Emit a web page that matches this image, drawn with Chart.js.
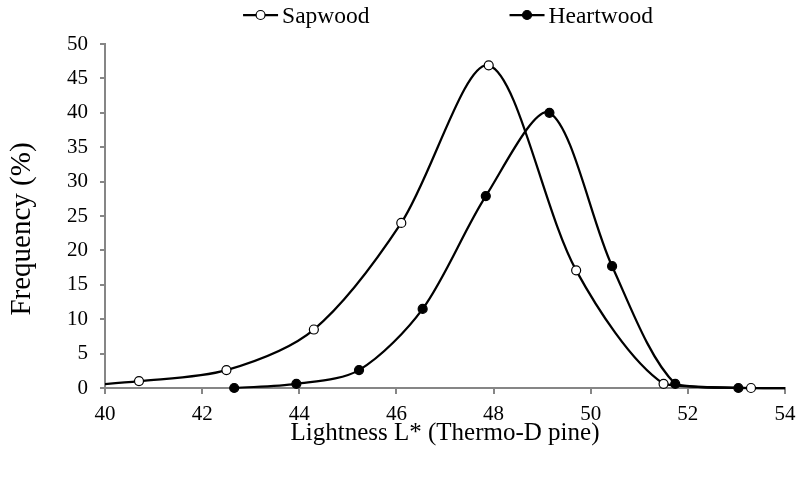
<!DOCTYPE html>
<html>
<head>
<meta charset="utf-8">
<script src="https://cdn.jsdelivr.net/npm/chart.js@4/dist/chart.umd.min.js"></script>
<style>
  html, body { margin: 0; padding: 0; background: #fff; }
  #wrap { width: 796px; height: 478px; }
</style>
</head>
<body>
<div id="wrap"><canvas id="c" width="796" height="478"></canvas></div>
<script>
// Lightness class centres (L*) and frequency (%) per wood type
const sapwoodL = [38.9, 40.7, 42.5, 44.3, 46.1, 47.9, 49.7, 51.5, 53.3, 55.1];
const sapwoodFreq = [0, 1.0, 2.6, 8.5, 24.0, 46.9, 17.1, 0.6, 0, 0];
const heartwoodL = [42.66, 43.94, 45.23, 46.54, 47.84, 49.15, 50.44, 51.74, 53.04, 54.34];
const heartwoodFreq = [0, 0.6, 2.6, 11.5, 27.9, 40.0, 17.7, 0.6, 0, 0];

const seriesNames = ['Sapwood', 'Heartwood'];
const xTicks = [40, 42, 44, 46, 48, 50, 52, 54];
const yTicks = [0, 5, 10, 15, 20, 25, 30, 35, 40, 45, 50];

const xTitle = 'Lightness L* (Thermo-D pine)';
const yTitle = 'Frequency (%)';

const FONT = '"Liberation Serif", "Times New Roman", serif';
const AXIS_GREY = '#868686';

function toPoints(xs, ys) {
  return xs.map((x, i) => ({ x: x, y: ys[i] }));
}

// Legend (line + marker + label) and the rotated y-axis title
const annotations = {
  id: 'annotations',
  afterDraw(chart) {
    const ctx = chart.ctx;
    const area = chart.chartArea;
    ctx.save();
    ctx.font = '23.5px ' + FONT;
    const keyW = 35, keyGap = 4, itemGap = 140;
    const items = chart.data.datasets.map(ds => ({
      ds: ds,
      w: keyW + keyGap + ctx.measureText(ds.label).width
    }));
    const total = items.reduce((s, it) => s + it.w, 0) + itemGap * (items.length - 1);
    let x = (area.left + area.right) / 2 + 3 - total / 2;
    const yLine = 15, yText = 23;
    items.forEach(it => {
      ctx.strokeStyle = '#000';
      ctx.lineWidth = 2.25;
      ctx.beginPath();
      ctx.moveTo(x, yLine);
      ctx.lineTo(x + keyW, yLine);
      ctx.stroke();
      ctx.beginPath();
      ctx.arc(x + keyW / 2, yLine, 4.5, 0, Math.PI * 2);
      ctx.fillStyle = it.ds.pointBackgroundColor;
      ctx.fill();
      ctx.lineWidth = 1.2;
      ctx.stroke();
      ctx.fillStyle = '#000';
      ctx.textBaseline = 'alphabetic';
      ctx.textAlign = 'left';
      ctx.fillText(it.ds.label, x + keyW + keyGap, yText);
      x += it.w + itemGap;
    });

    // y-axis title
    ctx.translate(22, (area.top + area.bottom) / 2 + 13);
    ctx.rotate(-Math.PI / 2);
    ctx.font = '29px ' + FONT;
    ctx.textAlign = 'center';
    ctx.textBaseline = 'middle';
    ctx.fillStyle = '#000';
    ctx.fillText(yTitle, 0, 0);
    ctx.restore();
  }
};

const commonDataset = {
  showLine: true,
  borderColor: '#000',
  borderWidth: 2.25,
  tension: 0.3,
  pointRadius: 4.5,
  pointHoverRadius: 4.5,
  pointBorderColor: '#000',
  pointBorderWidth: 1.2,
  clip: { left: 0, right: 0, top: false, bottom: false }
};

new Chart(document.getElementById('c'), {
  type: 'scatter',
  data: {
    datasets: [
      Object.assign({}, commonDataset, {
        label: seriesNames[0],
        data: toPoints(sapwoodL, sapwoodFreq),
        pointBackgroundColor: '#fff'
      }),
      Object.assign({}, commonDataset, {
        label: seriesNames[1],
        data: toPoints(heartwoodL, heartwoodFreq),
        pointBackgroundColor: '#000'
      })
    ]
  },
  options: {
    responsive: false,
    animation: false,
    events: [],
    layout: { padding: { top: 44, right: 11, bottom: 26, left: 0 } },
    plugins: {
      legend: { display: false },
      tooltip: { enabled: false }
    },
    scales: {
      x: {
        type: 'linear',
        min: xTicks[0],
        max: xTicks[xTicks.length - 1],
        afterBuildTicks(scale) { scale.ticks = xTicks.map(v => ({ value: v })); },
        afterFit(scale) {
          scale.height = 64;
          scale.paddingLeft = 0;
          scale.paddingRight = 0;
        },
        grid: {
          drawOnChartArea: false,
          drawTicks: true,
          tickLength: 6,
          color: AXIS_GREY,
          lineWidth: 2
        },
        border: { display: true, color: AXIS_GREY, width: 2 },
        ticks: {
          color: '#000',
          padding: 8,
          maxRotation: 0,
          font: { family: FONT, size: 21 }
        },
        title: {
          display: true,
          text: xTitle,
          color: '#000',
          padding: { top: 0, bottom: 4 },
          font: { family: FONT, size: 25 }
        }
      },
      y: {
        type: 'linear',
        min: yTicks[0],
        max: yTicks[yTicks.length - 1],
        afterBuildTicks(scale) { scale.ticks = yTicks.map(v => ({ value: v })); },
        afterFit(scale) {
          scale.width = 105;
          scale.paddingTop = 0;
          scale.paddingBottom = 0;
        },
        grid: {
          drawOnChartArea: false,
          drawTicks: true,
          tickLength: 5,
          color: AXIS_GREY,
          lineWidth: 2
        },
        border: { display: true, color: AXIS_GREY, width: 2 },
        ticks: {
          color: '#000',
          padding: 12,
          font: { family: FONT, size: 21 }
        },
        title: { display: false }
      }
    }
  },
  plugins: [annotations]
});
</script>
</body>
</html>
